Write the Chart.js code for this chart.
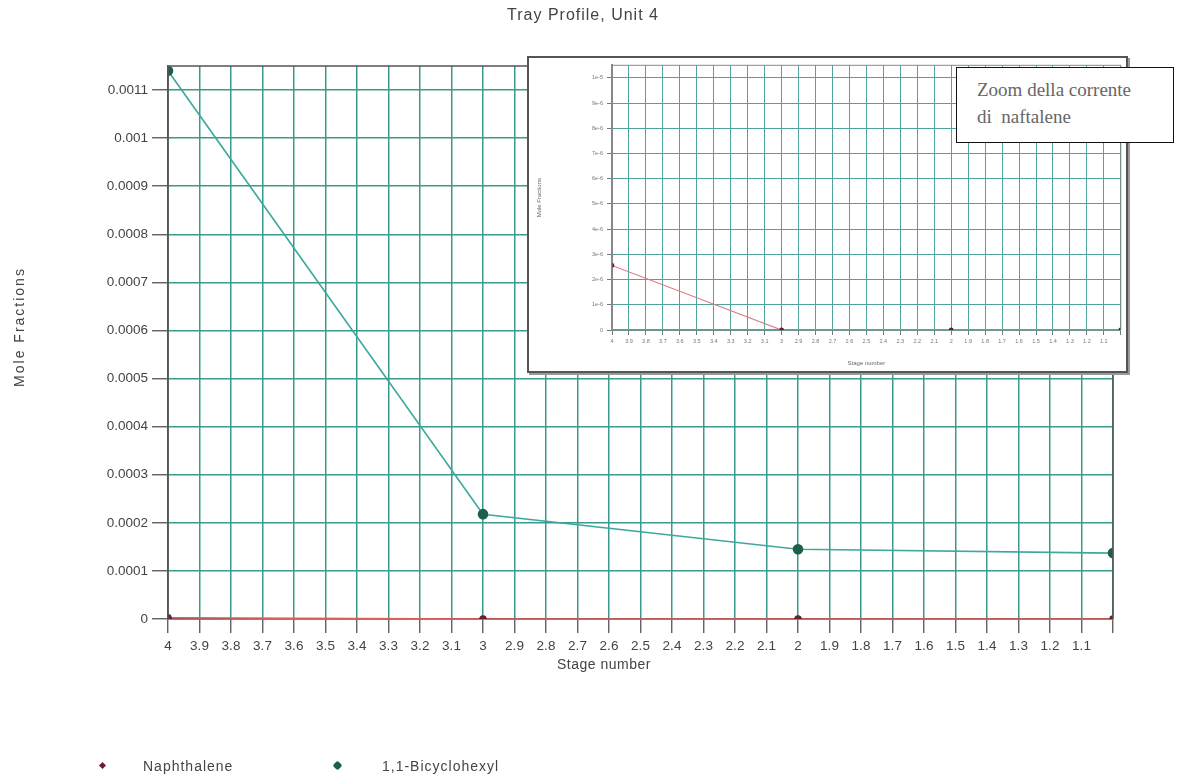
<!DOCTYPE html>
<html>
<head>
<meta charset="utf-8">
<script src="https://cdn.jsdelivr.net/npm/chart.js@4.4.1/dist/chart.umd.min.js"></script>
<style>
  body { margin: 0; background: #fff; }
  #wrap { position: relative; width: 1183px; height: 778px; overflow: hidden;
          font-family: "Liberation Sans", Arial, sans-serif; color: #444; }
  #mainChart { position: absolute; left: 0; top: 0; }
  .lbl { position: absolute; white-space: nowrap; line-height: 16px; }
  #title { left: 433px; top: 7px; width: 300px; text-align: center; font-size: 16px; letter-spacing: 1px; }
  #xTitle { left: 504px; top: 656px; width: 200px; text-align: center; font-size: 14px; letter-spacing: 0.5px; }
  #yTitle { left: -81px; top: 319px; width: 200px; text-align: center; font-size: 14px; letter-spacing: 2px;
            transform: rotate(-90deg); }
  #inset { position: absolute; left: 527px; top: 56px; border: 2px solid #555; background: #fff;
           box-shadow: 2px 2px 0 #999; }
  #inset canvas { display: block; }
  #note { position: absolute; left: 956px; top: 67px; width: 218px; height: 76px; border: 1.5px solid #111;
          background: #fff; font-family: "Liberation Serif", "Times New Roman", serif; font-size: 19px;
          color: #666; line-height: 27px; padding: 8px 0 0 20px; box-sizing: border-box; }
  .mk { position: absolute; transform: rotate(45deg); }
  .legtxt { font-size: 14px; letter-spacing: 1px; top: 758px; }
</style>
</head>
<body>
<div id="wrap">
  <canvas id="mainChart" width="1183" height="778"></canvas>
  <div id="title" class="lbl">Tray Profile, Unit 4</div>
  <div id="xTitle" class="lbl">Stage number</div>
  <div id="yTitle" class="lbl">Mole Fractions</div>

  <div id="inset"><canvas id="insetChart" width="597" height="313"></canvas></div>
  <div id="note">Zoom della corrente<br>di&nbsp; naftalene</div>

  <div class="mk" style="left:100px; top:763px; width:5px; height:5px; background:#6b1f33;"></div>
  <div class="lbl legtxt" style="left:143px;">Naphthalene</div>
  <div class="mk" style="left:334px; top:762px; width:7px; height:7px; background:#1d5e4c; border-radius:2px;"></div>
  <div class="lbl legtxt" style="left:382px;">1,1-Bicyclohexyl</div>
</div>

<script>
// stage numbers (x) and mole fractions (y)
const stages = [4, 3, 2, 1];
const naphthalene = [0.00000256, 0, 0, 0];
const bicyclohexyl = [0.00114, 0.000218, 0.000145, 0.000137];

// tick labels
const xTickLabels = ['4', '3.9', '3.8', '3.7', '3.6', '3.5', '3.4', '3.3', '3.2', '3.1',
                     '3', '2.9', '2.8', '2.7', '2.6', '2.5', '2.4', '2.3', '2.2', '2.1',
                     '2', '1.9', '1.8', '1.7', '1.6', '1.5', '1.4', '1.3', '1.2', '1.1'];
const mainYLabels = ['0', '0.0001', '0.0002', '0.0003', '0.0004', '0.0005', '0.0006',
                     '0.0007', '0.0008', '0.0009', '0.001', '0.0011'];
const insetYLabels = ['0', '1e-6', '2e-6', '3e-6', '4e-6', '5e-6', '6e-6', '7e-6', '8e-6', '9e-6', '1e-5'];

const toPoints = (ys) => stages.map((s, i) => ({ x: s, y: ys[i] }));
const xLabel = (v) => xTickLabels[Math.round((4 - v) * 10)] || '';

// draws the box round the plot area
const frame = {
    id: 'frame',
    afterDraw(chart, args, opts) {
        const a = chart.chartArea;
        const ctx = chart.ctx;
        ctx.save();
        ctx.strokeStyle = opts.color;
        ctx.lineWidth = opts.width;
        ctx.beginPath();
        ctx.moveTo(a.left, a.bottom);
        ctx.lineTo(a.left, a.top);
        ctx.lineTo(a.right, a.top);
        ctx.lineTo(a.right, a.bottom);
        ctx.stroke();
        ctx.restore();
    }
};

// Main chart
new Chart(document.getElementById('mainChart'), {
    type: 'line',
    data: {
        datasets: [
            {
                label: 'Naphthalene',
                data: toPoints(naphthalene),
                borderColor: '#e05a5a',
                borderWidth: 1.6,
                pointBackgroundColor: '#6b1f33',
                pointBorderColor: '#6b1f33',
                pointRadius: 3,
                order: 1
            },
            {
                label: '1,1-Bicyclohexyl',
                data: toPoints(bicyclohexyl),
                borderColor: '#3fa89c',
                borderWidth: 1.6,
                pointBackgroundColor: '#1d5e4c',
                pointBorderColor: '#1d5e4c',
                pointRadius: 4.5,
                order: 2
            }
        ]
    },
    options: {
        responsive: false,
        animation: false,
        layout: { padding: { left: 0, top: 66, right: 70, bottom: 119 } },
        scales: {
            x: {
                type: 'linear',
                reverse: true,
                min: 1,
                max: 4,
                afterFit: (s) => { s.height = 40; },
                border: { color: '#555', width: 1.5 },
                grid: { color: '#38998c', lineWidth: 1.5, tickLength: 14, tickColor: '#555', tickWidth: 1.3 },
                ticks: {
                    stepSize: 0.1,
                    autoSkip: false,
                    maxRotation: 0,
                    padding: 5,
                    color: '#444',
                    font: { family: 'Liberation Sans', size: 13.5 },
                    callback: xLabel
                }
            },
            y: {
                min: 0,
                max: 0.00115,
                afterFit: (s) => { s.width = 168; },
                border: { color: '#555', width: 1.5 },
                grid: { color: '#38998c', lineWidth: 1.5, tickLength: 16, tickColor: '#555', tickWidth: 1.3 },
                ticks: {
                    stepSize: 0.0001,
                    includeBounds: false,
                    padding: 4,
                    color: '#444',
                    font: { family: 'Liberation Sans', size: 13.5 },
                    callback: (v) => mainYLabels[Math.round(v / 0.0001)]
                }
            }
        },
        plugins: {
            legend: { display: false },
            tooltip: { enabled: false },
            frame: { color: '#555', width: 1.5 }
        }
    },
    plugins: [frame]
});

// Inset: zoom on naphthalene
new Chart(document.getElementById('insetChart'), {
    type: 'line',
    data: {
        datasets: [
            {
                label: 'Naphthalene',
                data: toPoints(naphthalene),
                borderColor: '#e07a86',
                borderWidth: 1.2,
                pointBackgroundColor: '#5a2030',
                pointBorderColor: '#5a2030',
                pointRadius: 1.8
            },
            {
                label: '1,1-Bicyclohexyl',
                data: toPoints(bicyclohexyl),
                borderColor: '#3fa89c',
                borderWidth: 1,
                pointRadius: 2
            }
        ]
    },
    options: {
        responsive: false,
        animation: false,
        layout: { padding: { left: 0, top: 4, right: 4, bottom: 0 } },
        scales: {
            x: {
                type: 'linear',
                reverse: true,
                min: 1,
                max: 4,
                afterFit: (s) => { s.height = 41; },
                border: { color: '#888', width: 1.5 },
                grid: { color: '#4fa59a', lineWidth: 1, tickLength: 5, tickColor: '#777' },
                ticks: {
                    stepSize: 0.1,
                    autoSkip: false,
                    maxRotation: 0,
                    padding: 3,
                    color: '#777',
                    font: { family: 'Liberation Sans', size: 5.5 },
                    callback: xLabel
                },
                title: {
                    display: true,
                    text: 'Stage number',
                    color: '#666',
                    font: { family: 'Liberation Sans', size: 6 },
                    padding: { top: 0, bottom: 4 }
                }
            },
            y: {
                min: 0,
                max: 0.0000105,
                afterFit: (s) => { s.width = 83; },
                border: { color: '#888', width: 2 },
                grid: { color: '#4fa59a', lineWidth: 1, tickLength: 5, tickColor: '#777' },
                ticks: {
                    stepSize: 0.000001,
                    includeBounds: false,
                    padding: 4,
                    color: '#777',
                    font: { family: 'Liberation Sans', size: 5.5 },
                    callback: (v) => insetYLabels[Math.round(v / 0.000001)]
                },
                title: {
                    display: true,
                    text: 'Mole Fractions',
                    color: '#666',
                    font: { family: 'Liberation Sans', size: 6 },
                    padding: { top: 7, bottom: 0 }
                }
            }
        },
        plugins: {
            legend: { display: false },
            tooltip: { enabled: false },
            frame: { color: '#888', width: 1 }
        }
    },
    plugins: [frame]
});
</script>
</body>
</html>
